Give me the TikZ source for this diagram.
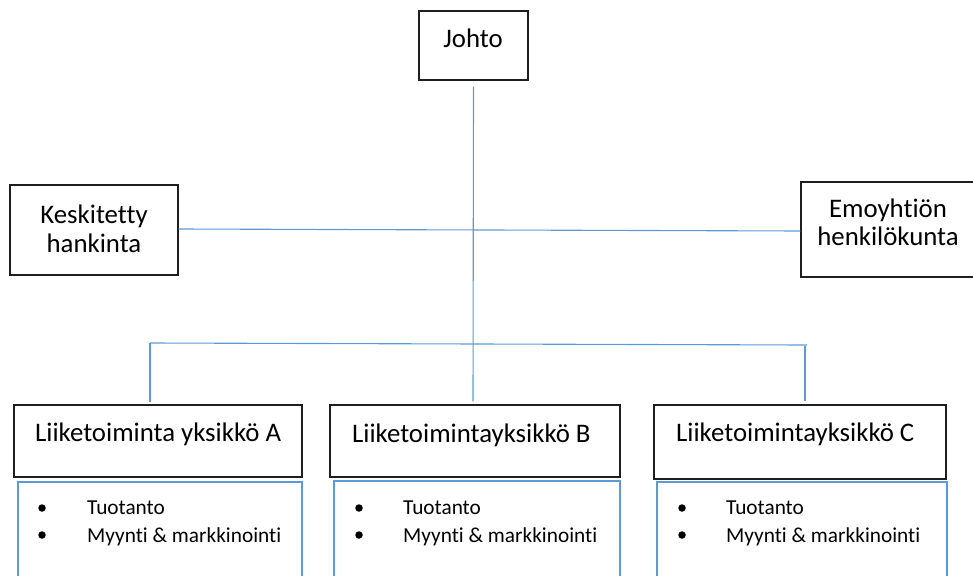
\documentclass[tikz,border=0pt]{standalone}
\usepackage{fontspec}
\setmainfont[Ligatures={NoCommon,NoContextual},Contextuals=NoAlternate]{Carlito}
\usetikzlibrary{calc}
\definecolor{linkblue}{HTML}{5B9BD5}
\definecolor{framegray}{HTML}{1E1E1E}
\begin{document}
\begin{tikzpicture}[x=1pt,y=-1pt,
  frame/.style={draw=framegray, line width=1.4pt, inner sep=0pt},
  listframe/.style={draw=linkblue, line width=2.4pt, inner sep=0pt},
  link/.style={draw=linkblue, line width=1.1pt},
  bigtext/.style={inner sep=0pt, font=\fontsize{26.8}{31}\selectfont},
  smalltext/.style={inner sep=0pt, font=\fontsize{21.3}{25}\selectfont, anchor=base west},
  dot/.style={circle, fill=black, inner sep=0pt, minimum size=7.5pt}]
\useasboundingbox (0,0) rectangle (973,575);

% top management
\node[frame, minimum width=109pt, minimum height=69pt] (johto) at (473.5,45.5) {};
\node[bigtext, anchor=base] (johtoT) at (473,48) {Johto};

% staff functions
\node[frame, minimum width=168pt, minimum height=90pt] (kesk) at (94,230) {};
\node[bigtext, anchor=base] (kesk1) at (94,223) {Keskitetty};
\node[bigtext, anchor=base] (kesk2) at (94,252) {hankinta};

\node[frame, minimum width=180pt, minimum height=95pt] (emo) at (891,229.5) {};
\node[bigtext, anchor=base] (emo1) at (888,217) {Emoyhtiön};
\node[bigtext, anchor=base] (emo2) at (888,245) {henkilökunta};

% business units
\node[frame, minimum width=288pt, minimum height=72pt] (ua) at (158,441) {};
\node[frame, minimum width=290pt, minimum height=72pt] (ub) at (475,441) {};
\node[frame, minimum width=292pt, minimum height=74pt] (uc) at (800,442) {};
\node[bigtext, anchor=base west] (uaT) at (35,441) {Liiketoiminta yksikkö A};
\node[bigtext, anchor=base west] (ubT) at (352,442) {Liiketoimintayksikkö B};
\node[bigtext, anchor=base west] (ucT) at (676,441) {Liiketoimintayksikkö C};

% function lists
\node[listframe, minimum width=284pt, minimum height=98pt] (la) at (160,531) {};
\node[listframe, minimum width=286pt, minimum height=99pt] (lb) at (477,530.5) {};
\node[listframe, minimum width=290pt, minimum height=98pt] (lc) at (802,531) {};

\node[dot] (da1) at (42,508) {};
\node[dot] (da2) at (42,535) {};
\node[smalltext] (ta1) at (87,514) {Tuotanto};
\node[smalltext] (ta2) at (87,542) {Myynti \& markkinointi};

\node[dot] (db1) at (359,508) {};
\node[dot] (db2) at (359,535) {};
\node[smalltext] (tb1) at (403,514) {Tuotanto};
\node[smalltext] (tb2) at (403,542) {Myynti \& markkinointi};

\node[dot] (dc1) at (682,508) {};
\node[dot] (dc2) at (682,535) {};
\node[smalltext] (tc1) at (726,514) {Tuotanto};
\node[smalltext] (tc2) at (726,542) {Myynti \& markkinointi};

% connector end points
\coordinate (trunkTop) at ($(johto.south)+(0,6)$);
\coordinate (trunkBot) at ($(ub.north)+(-2,-3)$);
\coordinate (staffL) at ($(kesk.east)+(0,-1)$);
\coordinate (staffR) at ($(emo.west)+(0,1.5)$);
\coordinate (busL) at (150,343);
\coordinate (busR) at (807,345);
\coordinate (dropL) at (150,402);
\coordinate (dropRtop) at (805,346);
\coordinate (dropR) at (805,401);

% connectors
\draw[link] (trunkTop) -- (trunkBot);
\draw[link] (staffL) -- (staffR);
\draw[link] (busL) -- (busR);
\draw[link] (busL) -- (dropL);
\draw[link] (dropRtop) -- (dropR);
\end{tikzpicture}
\end{document}
